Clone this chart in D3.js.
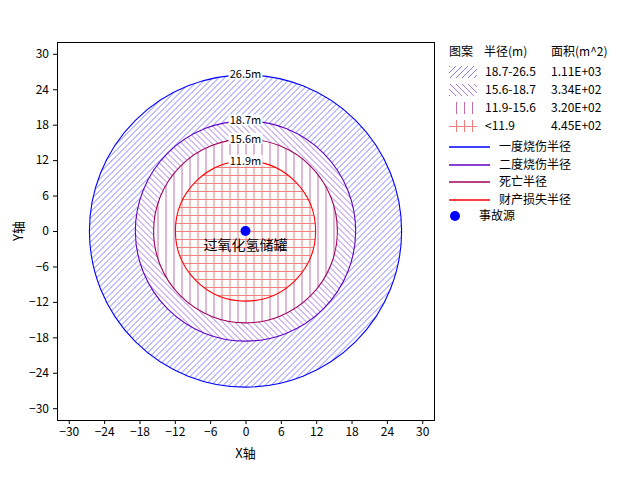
<!DOCTYPE html>
<html>
<head>
<meta charset="utf-8">
<script src="https://cdn.jsdelivr.net/npm/d3@7"></script>
<style>
  body { margin: 0; background: #fff; }
  text { font-family: "Noto Sans CJK SC", "DejaVu Sans", sans-serif; }
</style>
</head>
<body>
<div id="chart"></div>
<script>
// values
const radii = [26.5, 18.7, 15.6, 11.9];
const circleNames = ['一度烧伤半径', '二度烧伤半径', '死亡半径', '财产损失半径'];
const rangeLabels = ['18.7-26.5', '15.6-18.7', '11.9-15.6', '<11.9'];
const areaLabels = ['1.11E+03', '3.34E+02', '3.20E+02', '4.45E+02'];
const tickValues = [-30, -24, -18, -12, -6, 0, 6, 12, 18, 24, 30];
const sourceName = '过氧化氢储罐';

const lineColors = ['#0000ff', '#6000c0', '#a0005a', '#ff0000'];

const width = 632, height = 489;
const margin = { top: 42, left: 57, right: 198, bottom: 69 };

const svg = d3.select('#chart').append('svg')
  .attr('width', width)
  .attr('height', height);

const x = d3.scaleLinear().domain([-32, 32]).range([margin.left, width - margin.right]);
const y = d3.scaleLinear().domain([-32, 32]).range([height - margin.bottom, margin.top]);

// hatch patterns
const defs = svg.append('defs');
function pattern(id, w, h, d, color) {
  defs.append('pattern')
    .attr('id', id)
    .attr('patternUnits', 'userSpaceOnUse')
    .attr('width', w).attr('height', h)
    .append('path')
    .attr('d', d)
    .attr('stroke', color)
    .attr('stroke-width', 1)
    .attr('shape-rendering', 'crispEdges')
    .attr('fill', 'none');
}
pattern('p0', 6, 6, 'M0,6L6,0M-1,1L1,-1M5,7L7,5', '#8080ff');
pattern('p1', 6, 6, 'M0,0L6,6M-1,5L1,7M5,-1L7,1', '#a878e8');
pattern('p2', 8, 8, 'M0.5,0V8', '#c070a8');
pattern('p3', 8, 8, 'M0.5,0V8M0,0.5H8', '#f08080');

const cx = x(0), cy = y(0);
const k = x(1) - x(0);

// rings
const ringData = radii.map((r, i) => ({ outer: r, inner: radii[i + 1] || 0, i }));
const arc = d3.arc().startAngle(0).endAngle(2 * Math.PI);
svg.append('g')
  .attr('transform', `translate(${cx},${cy})`)
  .selectAll('path')
  .data(ringData)
  .join('path')
  .attr('d', d => arc({ innerRadius: d.inner * k, outerRadius: d.outer * k }))
  .attr('fill', d => `url(#p${d.i})`);

// circles
svg.append('g')
  .selectAll('circle')
  .data(radii)
  .join('circle')
  .attr('cx', cx).attr('cy', cy)
  .attr('r', d => d * k)
  .attr('fill', 'none')
  .attr('stroke', (d, i) => lineColors[i])
  .attr('stroke-width', 1.1);

// circle labels
const lab = svg.append('g')
  .selectAll('g')
  .data(radii)
  .join('g')
  .attr('transform', d => `translate(${cx},${y(d)})`);
lab.append('rect')
  .attr('x', -17).attr('y', -6).attr('width', 34).attr('height', 11)
  .attr('fill', '#fff');
lab.append('text')
  .attr('text-anchor', 'middle')
  .attr('dy', '0.35em')
  .attr('font-size', 11)
  .text(d => d + 'm');

// source
svg.append('circle')
  .attr('cx', cx).attr('cy', cy).attr('r', 5)
  .attr('fill', '#0000ff');
svg.append('text')
  .attr('x', cx).attr('y', cy + 14)
  .attr('text-anchor', 'middle')
  .attr('dy', '0.35em')
  .attr('font-size', 14)
  .text(sourceName);

// axes
svg.append('g')
  .attr('transform', `translate(0,${height - margin.bottom})`)
  .call(d3.axisBottom(x).tickValues(tickValues).tickSize(4).tickPadding(3))
  .call(g => g.select('.domain').remove())
  .call(g => g.selectAll('text').attr('font-size', 12).attr('font-family', '"Noto Sans CJK SC", sans-serif'));
svg.append('g')
  .attr('transform', `translate(${margin.left},0)`)
  .call(d3.axisLeft(y).tickValues(tickValues).tickSize(4).tickPadding(4))
  .call(g => g.select('.domain').remove())
  .call(g => g.selectAll('text').attr('font-size', 12).attr('font-family', '"Noto Sans CJK SC", sans-serif'));

svg.append('rect')
  .attr('x', margin.left + 0.5).attr('y', margin.top + 0.5)
  .attr('width', x(32) - x(-32)).attr('height', y(-32) - y(32))
  .attr('fill', 'none').attr('stroke', '#000');

svg.append('text')
  .attr('x', cx).attr('y', 453)
  .attr('text-anchor', 'middle').attr('dy', '0.35em')
  .attr('font-size', 13)
  .text('X轴');
svg.append('text')
  .attr('transform', `translate(18,${cy}) rotate(-90)`)
  .attr('text-anchor', 'middle').attr('dy', '0.35em')
  .attr('font-size', 13)
  .text('Y轴');

// legend
const lg = svg.append('g').attr('font-size', 12);
const hy = 52;
lg.append('text').attr('x', 449).attr('y', hy).attr('dy', '0.35em').text('图案');
lg.append('text').attr('x', 484).attr('y', hy).attr('dy', '0.35em').text('半径(m)');
lg.append('text').attr('x', 551).attr('y', hy).attr('dy', '0.35em').text('面积(m^2)');

const rows = lg.selectAll('g.row')
  .data(rangeLabels)
  .join('g')
  .attr('class', 'row')
  .attr('transform', (d, i) => `translate(0,${72 + i * 18})`);
rows.append('rect')
  .attr('x', 449).attr('y', -6).attr('width', 28).attr('height', 12)
  .attr('fill', (d, i) => `url(#p${i})`);
rows.append('text').attr('x', 485).attr('dy', '0.35em').text(d => d);
rows.append('text').attr('x', 551).attr('dy', '0.35em').text((d, i) => areaLabels[i]);

const lrows = lg.selectAll('g.lrow')
  .data(circleNames)
  .join('g')
  .attr('class', 'lrow')
  .attr('transform', (d, i) => `translate(0,${Math.round(147 + i * 17.5)})`);
lrows.append('line')
  .attr('x1', 449).attr('x2', 490)
  .attr('stroke-width', 1.4)
  .attr('stroke', (d, i) => lineColors[i]);
lrows.append('text').attr('x', 499).attr('dy', '0.35em').text(d => d);

lg.append('circle').attr('cx', 455).attr('cy', 216).attr('r', 5).attr('fill', '#0000ff');
lg.append('text').attr('x', 479).attr('y', 216).attr('dy', '0.35em').text('事故源');
</script>
</body>
</html>
